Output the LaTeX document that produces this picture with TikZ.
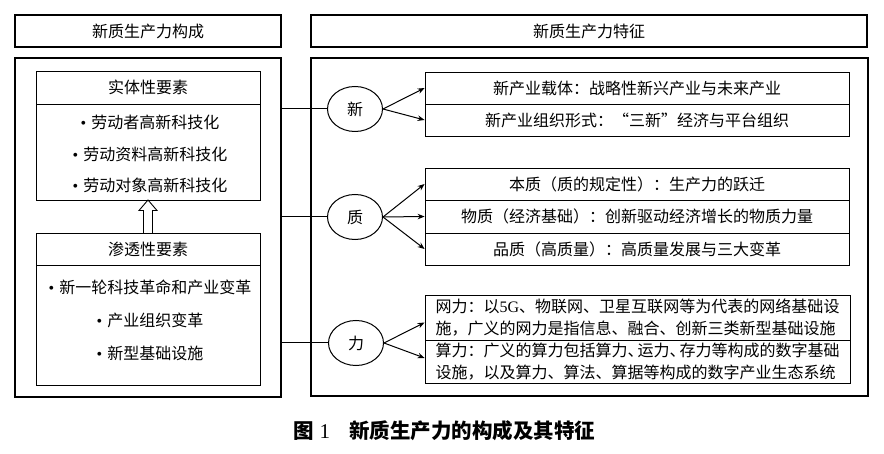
\documentclass[tikz,border=0pt]{standalone}
\usepackage{fontspec}
\setmainfont{Noto Sans CJK SC}
\newfontfamily\lat{Liberation Serif}
\usetikzlibrary{arrows.meta,shapes.geometric}
\tikzset{
  hdr/.style={draw, line width=1.2pt, inner sep=0pt, minimum height=32pt},
  outerbox/.style={draw, line width=1.2pt, inner sep=0pt},
  cell/.style={draw, line width=0.8pt, inner sep=0pt},
  circ/.style={draw, ellipse, line width=1pt, minimum width=55pt, minimum height=45pt, inner sep=0pt},
  arr/.style={-{Stealth[length=7pt,width=5.5pt]}, line width=1pt},
  link/.style={line width=1pt},
  item/.style={inner sep=0pt},
  hollow/.style={draw, line width=0.9pt, fill=white},
}
\newcommand{\bul}{{\lat •}\hspace{5pt}}
\begin{document}
\begin{tikzpicture}[x=1pt,y=-1pt,font=\fontsize{16}{22}\selectfont]
\useasboundingbox (0,0) rectangle (884,454);
% headers
\node[hdr, minimum width=266pt] (lh) at (148,31) {新质生产力构成};
\node[hdr, minimum width=556pt] (rh) at (589,31) {新质生产力特征};
% outer boxes
\node[outerbox, minimum width=266pt, minimum height=339pt] (lbox) at (148,227.5) {};
\node[outerbox, minimum width=557pt, minimum height=338pt] (rbox) at (589.5,227) {};
% left: solid factors
\node[cell, minimum width=224pt, minimum height=33pt] (st) at (148,87.5) {实体性要素};
\node[cell, minimum width=224pt, minimum height=96pt] (sb) at (148,152) {};
\node[item] (s1) at (150,122) {\bul 劳动者高新科技化};
\node[item] (s2) at (150,154) {\bul 劳动资料高新科技化};
\node[item] (s3) at (150,185) {\bul 劳动对象高新科技化};
% left: permeating factors
\node[cell, minimum width=224pt, minimum height=32pt] (pt) at (148,249) {渗透性要素};
\node[cell, minimum width=224pt, minimum height=120pt] (pb) at (148,325) {};
\node[item] (p1) at (150,287) {\bul 新一轮科技革命和产业变革};
\node[item] (p2) at (150,320) {\bul 产业组织变革};
\node[item] (p3) at (150,353) {\bul 新型基础设施};
% hollow arrow
\draw[hollow] (143.5,233) -- (143.5,210.5) -- (139,210.5) -- (148,200) -- (157,210.5) -- (152.5,210.5) -- (152.5,233);
% circles
\node[circ] (cx) at (355,109) {新};
\node[circ] (cz) at (355,217) {质};
\node[circ] (cl) at (356,343) {力};
% right boxes
\node[cell, minimum width=424pt, minimum height=32pt] (x1) at (637,88) {新产业载体：战略性新兴产业与未来产业};
\node[cell, minimum width=424pt, minimum height=32pt] (x2) at (637,120) {新产业组织形式：“三新”经济与平台组织};
\node[cell, minimum width=424pt, minimum height=32pt] (z1) at (637,184) {本质（质的规定性）：生产力的跃迁};
\node[cell, minimum width=424pt, minimum height=33pt] (z2) at (637,216.5) {物质（经济基础）：创新驱动经济增长的物质力量};
\node[cell, minimum width=424pt, minimum height=32pt] (z3) at (637,249) {品质（高质量）：高质量发展与三大变革};
\node[cell, minimum width=425pt, minimum height=45pt, text width=404pt, align=justify] (l1) at (637.5,317.5)
  {\XeTeXlinebreaklocale "zh"\XeTeXlinebreakskip=0pt plus 2pt 网力：以{\lat 5G}、物联网、卫星互联网等为代表的网络基础设\break 施，广义的网力是指信息、融合、创新三类新型基础设施};
\node[cell, minimum width=425pt, minimum height=43pt, text width=404pt, align=left] (l2) at (637.5,361.5)
  {算力：广义的算力包括算力、\kern-6pt 运力、\kern-6pt 存力等构成的数字基础\\设施，以及算力、算法、算据等构成的数字产业生态系统};
% links from left box to circles
\draw[link] (lbox.east |- cx.west) -- (cx.west);
\draw[link] (lbox.east |- cz.west) -- (cz.west);
\draw[link] (lbox.east |- cl.west) -- (cl.west);
% arrows
\draw[arr] (cx.east) -- (x1.west);
\draw[arr] (cx.east) -- (x2.west);
\draw[arr] (cz.east) -- (z1.west);
\draw[arr] (cz.east) -- (z2.west);
\draw[arr] (cz.east) -- (z3.west);
\draw[arr] (cl.east) -- ([yshift=-5pt]l1.west);
\draw[arr] (cl.east) -- ([yshift=3.5pt]l2.west);
% caption
\node[anchor=west, inner sep=0pt, font=\fontsize{20.5}{24}\selectfont\bfseries] (cap) at (293,431)
  {图\hspace{6pt}{\lat\mdseries\fontsize{21}{24}\selectfont 1}\hspace{19pt}新质生产力的构成及其特征};
\end{tikzpicture}
\end{document}
